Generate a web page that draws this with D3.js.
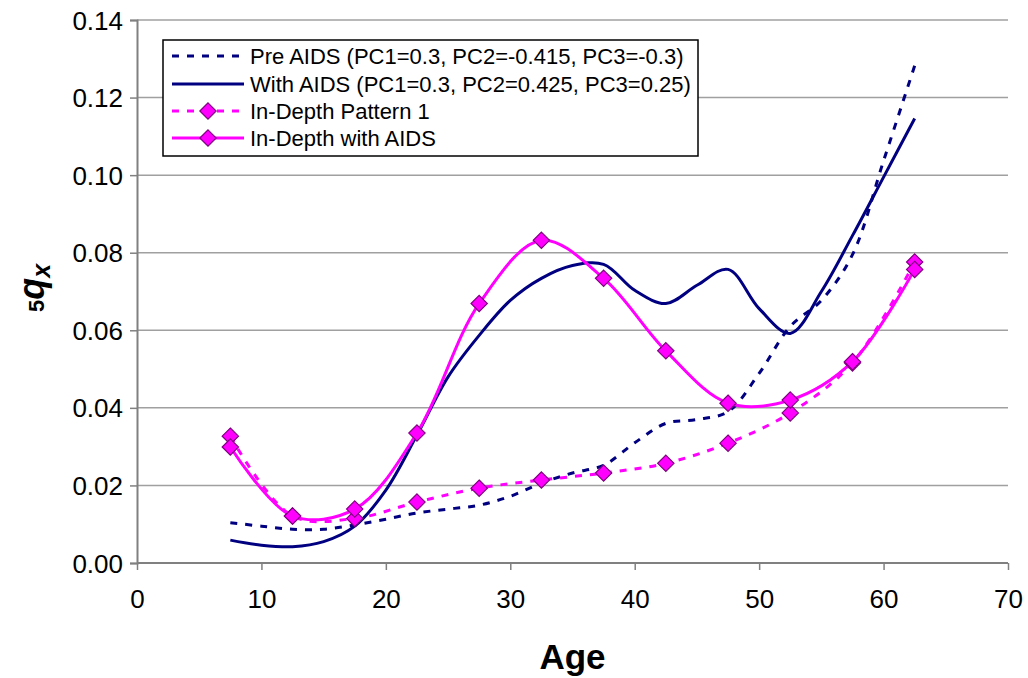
<!DOCTYPE html>
<html>
<head>
<meta charset="utf-8">
<script src="https://cdn.jsdelivr.net/npm/d3@7"></script>
<style>
  html, body { margin: 0; padding: 0; background: #fff; }
  svg { display: block; font-family: "Liberation Sans", Arial, sans-serif; }
</style>
</head>
<body>
<svg id="chart" width="1028" height="678"></svg>
<script>
// ages for every series (mid-points of 2.5 / 5 year groups)
const navyAges = [7.5, 10, 12.5, 15, 17.5, 20, 22.5, 25, 27.5, 30, 32.5, 35, 37.5, 40, 42.5, 45, 47.5, 50, 52.5, 55, 57.5, 60, 62.5];
const preAids = [0.0104, 0.0095, 0.0087, 0.0087, 0.0098, 0.0113, 0.0129, 0.0139, 0.0149, 0.0172, 0.0206, 0.0232, 0.0252, 0.0310, 0.0360, 0.0370, 0.0390, 0.0489, 0.0610, 0.0677, 0.0795, 0.1037, 0.1282];
const withAids = [0.0059, 0.0046, 0.0042, 0.0055, 0.0095, 0.0188, 0.0330, 0.0480, 0.0587, 0.0677, 0.0734, 0.0767, 0.0770, 0.0703, 0.0669, 0.0716, 0.0757, 0.0656, 0.0592, 0.0700, 0.0844, 0.0995, 0.1146];

const depthAges = [7.5, 12.5, 17.5, 22.5, 27.5, 32.5, 37.5, 42.5, 47.5, 52.5, 57.5, 62.5];
const depthPattern1 = [0.0327, 0.0121, 0.0115, 0.0157, 0.0193, 0.0214, 0.0232, 0.0257, 0.0309, 0.0387, 0.0516, 0.0776];
const depthWithAids = [0.0299, 0.0121, 0.0139, 0.0335, 0.0669, 0.0832, 0.0734, 0.0547, 0.0412, 0.0420, 0.0519, 0.0757];

const xTicks = [0, 10, 20, 30, 40, 50, 60, 70];
const yTicks = [0, 0.02, 0.04, 0.06, 0.08, 0.10, 0.12, 0.14];

const navy = "#000080";
const magenta = "#FF00FF";
const markerStroke = "#800080";

const series = [
  { name: "Pre AIDS (PC1=0.3, PC2=-0.415, PC3=-0.3)", ages: navyAges, values: preAids, color: navy, dash: "7,8", marker: false },
  { name: "With AIDS (PC1=0.3, PC2=0.425, PC3=0.25)", ages: navyAges, values: withAids, color: navy, dash: null, marker: false },
  { name: "In-Depth Pattern 1", ages: depthAges, values: depthPattern1, color: magenta, dash: "7,8", marker: true },
  { name: "In-Depth with AIDS", ages: depthAges, values: depthWithAids, color: magenta, dash: null, marker: true }
];

const svg = d3.select("#chart");

const x = d3.scaleLinear().domain([0, 70]).range([137, 1008]);
const y = d3.scaleLinear().domain([0, 0.14]).range([563, 20]);

// gridlines
svg.append("g")
  .selectAll("line")
  .data(yTicks.slice(1))
  .join("line")
  .attr("x1", x(0)).attr("x2", x(70))
  .attr("y1", d => y(d)).attr("y2", d => y(d))
  .attr("stroke", "#a0a0a0")
  .attr("stroke-width", 1.5);

// axes
const axisColor = "#808080";
const yAxis = svg.append("g")
  .attr("transform", `translate(${x(0)},0)`)
  .call(d3.axisLeft(y).tickValues(yTicks).tickFormat(d3.format(".2f")).tickSize(7).tickPadding(7));
const xAxis = svg.append("g")
  .attr("transform", `translate(0,${y(0)})`)
  .call(d3.axisBottom(x).tickValues(xTicks).tickFormat(d3.format("d")).tickSize(7).tickPadding(20));

[xAxis, yAxis].forEach(ax => {
  ax.select(".domain").attr("stroke", axisColor).attr("stroke-width", 2);
  ax.selectAll(".tick line").attr("stroke", axisColor).attr("stroke-width", 1.5);
  ax.selectAll(".tick text")
    .attr("fill", "#000")
    .style("font-size", "26px")
    .style("font-family", "'Liberation Sans', Arial, sans-serif");
});
xAxis.select(".domain").attr("d", `M${x(0)},0H${x(70)}`);
yAxis.selectAll(".tick text").attr("dy", "0.35em");

// lines
const line = d3.line()
  .x(d => x(d[0]))
  .y(d => y(d[1]))
  .curve(d3.curveCatmullRom.alpha(0.5));

const plot = svg.append("g");
series.forEach(s => {
  const pts = s.ages.map((a, i) => [a, s.values[i]]);
  plot.append("path")
    .datum(pts)
    .attr("fill", "none")
    .attr("stroke", s.color)
    .attr("stroke-width", 3)
    .attr("stroke-dasharray", s.dash)
    .attr("d", line);
});

const diamond = d3.symbol().type(d3.symbolDiamond2).size(170);

series.filter(s => s.marker).forEach(s => {
  plot.append("g")
    .selectAll("path")
    .data(s.ages.map((a, i) => [a, s.values[i]]))
    .join("path")
    .attr("d", diamond)
    .attr("transform", d => `translate(${x(d[0])},${y(d[1])})`)
    .attr("fill", magenta)
    .attr("stroke", markerStroke)
    .attr("stroke-width", 1.2);
});

// legend
const legend = svg.append("g").attr("transform", "translate(163,40)");
legend.append("rect")
  .attr("width", 535).attr("height", 116)
  .attr("fill", "#fff")
  .attr("stroke", "#000")
  .attr("stroke-width", 1.5);

const rowY = [16, 44, 71, 98];
series.forEach((s, i) => {
  const row = legend.append("g").attr("transform", `translate(0,${rowY[i]})`);
  row.append("line")
    .attr("x1", 9).attr("x2", 81)
    .attr("stroke", s.color)
    .attr("stroke-width", 3)
    .attr("stroke-dasharray", s.dash);
  if (s.marker) {
    row.append("path")
      .attr("d", diamond)
      .attr("transform", "translate(45,0)")
      .attr("fill", magenta)
      .attr("stroke", markerStroke)
      .attr("stroke-width", 1.2);
  }
  row.append("text")
    .attr("x", 87)
    .attr("dy", "0.35em")
    .style("font-size", "22px")
    .text(s.name);
});

// axis titles
svg.append("text")
  .attr("x", (x(0) + x(70)) / 2)
  .attr("y", 669)
  .attr("text-anchor", "middle")
  .style("font-size", "35px")
  .style("font-weight", "bold")
  .text("Age");

const yTitle = svg.append("text")
  .attr("transform", "translate(44,288) rotate(-90)")
  .attr("text-anchor", "middle")
  .style("font-weight", "bold");
yTitle.append("tspan").style("font-size", "22px").attr("dy", 0).text("5");
yTitle.append("tspan").style("font-size", "36px").style("font-style", "italic").text("q");
yTitle.append("tspan").style("font-size", "25px").style("font-style", "italic").attr("dy", 6).text("x");
</script>
</body>
</html>
